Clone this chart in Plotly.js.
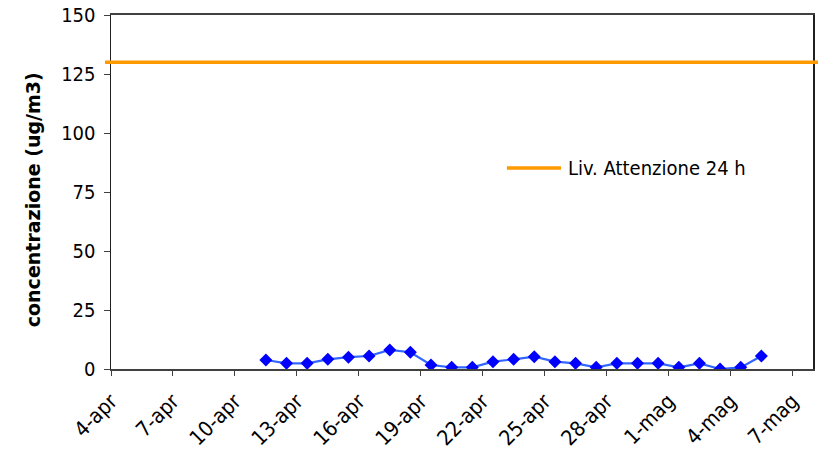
<!DOCTYPE html>
<html>
<head>
<meta charset="utf-8">
<script src="https://cdn.plot.ly/plotly-3.0.1.min.js"></script>
<style>
  html, body { margin: 0; padding: 0; background: #ffffff; }
  #chart { width: 818px; height: 456px; }
</style>
</head>
<body>
<div id="chart"></div>
<script>
// Daily concentrations (ug/m3), one value per day, plotted at midday
const days = [
  '2008-04-11 12:00', '2008-04-12 12:00', '2008-04-13 12:00', '2008-04-14 12:00',
  '2008-04-15 12:00', '2008-04-16 12:00', '2008-04-17 12:00', '2008-04-18 12:00',
  '2008-04-19 12:00', '2008-04-20 12:00', '2008-04-21 12:00', '2008-04-22 12:00',
  '2008-04-23 12:00', '2008-04-24 12:00', '2008-04-25 12:00', '2008-04-26 12:00',
  '2008-04-27 12:00', '2008-04-28 12:00', '2008-04-29 12:00', '2008-04-30 12:00',
  '2008-05-01 12:00', '2008-05-02 12:00', '2008-05-03 12:00', '2008-05-04 12:00',
  '2008-05-05 12:00'
];
const concentrazione = [
  3.8, 2.4, 2.4, 4.1, 5.0, 5.5, 8.1, 7.1, 1.7, 0.7, 0.7, 3.1, 4.1,
  5.2, 3.1, 2.4, 0.7, 2.4, 2.4, 2.4, 0.7, 2.4, 0.0, 0.7, 5.5
];

// 24 h attention threshold
const livelloAttenzione = [130];
const livelloNome = 'Liv. Attenzione 24 h';
const titoloY = 'concentrazione (ug/m3)';

// Date axis ticks, every three days
const tickDates = [
  '2008-04-04', '2008-04-07', '2008-04-10', '2008-04-13', '2008-04-16', '2008-04-19',
  '2008-04-22', '2008-04-25', '2008-04-28', '2008-05-01', '2008-05-04', '2008-05-07'
];
const tickLabels = [
  '4-apr', '7-apr', '10-apr', '13-apr', '16-apr', '19-apr',
  '22-apr', '25-apr', '28-apr', '1-mag', '4-mag', '7-mag'
];
const xRange = ['2008-04-04', '2008-05-08'];
const yTicks = [0, 25, 50, 75, 100, 125, 150];

const fontFamily = 'DejaVu Sans Condensed, Liberation Sans, sans-serif';
const orange = '#FF9900';

const serie = {
  type: 'scatter',
  mode: 'lines+markers',
  x: days,
  y: concentrazione,
  line: { color: '#3366FF', width: 2.2 },
  marker: { symbol: 'diamond', size: 10, color: '#0000FF' },
  showlegend: false,
  hoverinfo: 'x+y'
};

const layout = {
  width: 818,
  height: 456,
  margin: { l: 111, r: 5, t: 15, b: 87, pad: 0 },
  paper_bgcolor: '#ffffff',
  plot_bgcolor: '#ffffff',
  showlegend: false,
  xaxis: {
    type: 'date',
    range: xRange,
    tickmode: 'array',
    tickvals: tickDates,
    ticktext: tickLabels,
    tickangle: -45,
    ticks: 'outside',
    ticklen: 5,
    tickwidth: 1,
    tickcolor: '#404040',
    tickfont: { family: fontFamily, size: 21, color: '#000000' },
    ticklabelstandoff: 5,
    showgrid: false,
    zeroline: false,
    showline: true,
    linecolor: '#404040',
    linewidth: 1.6,
    mirror: true
  },
  yaxis: {
    range: [0, 150],
    tickmode: 'array',
    tickvals: yTicks,
    ticks: 'outside',
    ticklen: 6,
    tickwidth: 1,
    tickcolor: '#404040',
    tickfont: { family: fontFamily, size: 20, color: '#000000' },
    ticklabelstandoff: 4,
    showgrid: false,
    zeroline: false,
    showline: true,
    linecolor: '#202020',
    linewidth: 1.5,
    mirror: true
  },
  shapes: [
    {
      type: 'line', layer: 'above',
      xref: 'paper', x0: -0.0085, x1: 1.01,
      yref: 'y', y0: livelloAttenzione[0], y1: livelloAttenzione[0],
      line: { color: orange, width: 3.5 }
    },
    {
      // legend sample
      type: 'line', layer: 'above',
      xref: 'paper', x0: 0.564, x1: 0.641,
      yref: 'paper', y0: 0.568, y1: 0.568,
      line: { color: orange, width: 3.5 }
    }
  ],
  annotations: [
    {
      text: livelloNome,
      xref: 'paper', x: 0.648, xanchor: 'left',
      yref: 'paper', y: 0.568, yanchor: 'middle',
      showarrow: false,
      font: { family: fontFamily, size: 20, color: '#000000' }
    },
    {
      // y axis title
      text: '<b>' + titoloY + '</b>',
      textangle: -90,
      xref: 'paper', x: -0.111, xanchor: 'center',
      yref: 'paper', y: 0.477, yanchor: 'middle',
      showarrow: false,
      font: { family: 'DejaVu Sans, sans-serif', size: 19, color: '#000000' }
    }
  ]
};

Plotly.newPlot('chart', [serie], layout, { staticPlot: true, displayModeBar: false });
</script>
</body>
</html>
